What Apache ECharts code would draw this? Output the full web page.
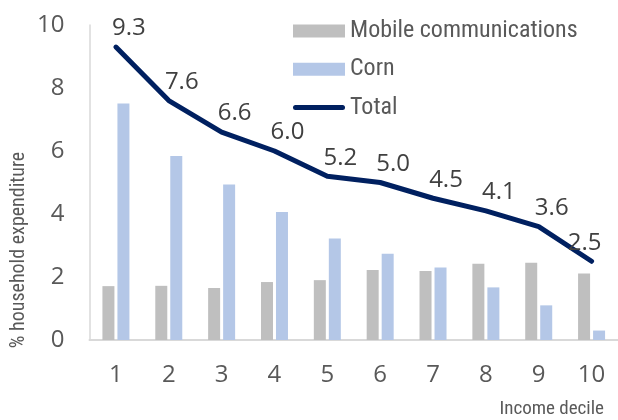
<!DOCTYPE html>
<html>
<head>
<meta charset="utf-8">
<script src="https://cdn.jsdelivr.net/npm/echarts@6/dist/echarts.min.js"></script>
<style>html,body{margin:0;padding:0;background:#fff}#c{width:618px;height:420px}</style>
</head>
<body>
<div id="c"></div>
<script>
var categories = ['1','2','3','4','5','6','7','8','9','10'];
var mobile = [1.71,1.72,1.65,1.84,1.90,2.22,2.19,2.42,2.45,2.11];
var corn = [7.51,5.84,4.94,4.06,3.22,2.74,2.30,1.67,1.10,0.30];
var total = [9.3,7.6,6.6,6.0,5.2,5.0,4.5,4.1,3.6,2.5];
var yTicks = [0,2,4,6,8,10];

var narrow = "'Roboto Condensed','DejaVu Sans Condensed',sans-serif";
var sans = "'Open Sans',sans-serif";

var chart = echarts.init(document.getElementById('c'), null, {renderer:'canvas'});
chart.setOption({
  animation:false,
  grid:{left:89.5, top:25, bottom:80, width:533, containLabel:false},
  legend:{
    orient:'vertical', left:288, top:14,
    itemWidth:52, itemHeight:13, itemGap:14.3,
    textStyle:{fontFamily:narrow, fontSize:24, color:'#595959', lineHeight:24},
    data:[
      {name:'Mobile communications', icon:'rect'},
      {name:'Corn', icon:'rect'},
      {name:'Total', icon:'path://M2.5,0 L49.5,0 A2.5,2.5 0 0 1 49.5,5 L2.5,5 A2.5,2.5 0 0 1 2.5,0 Z'}
    ]
  },
  xAxis:{
    type:'category', data:categories,
    axisLine:{lineStyle:{color:'#d9d9d9', width:2}},
    axisTick:{show:false},
    axisLabel:{fontFamily:sans, fontSize:24, color:'#595959', margin:23}
  },
  yAxis:{
    type:'value', min:yTicks[0], max:yTicks[yTicks.length-1], interval:2,
    splitLine:{show:false},
    axisLine:{show:true, lineStyle:{color:'#d9d9d9', width:1.5}},
    axisTick:{show:false},
    axisLabel:{fontFamily:sans, fontSize:24, color:'#595959', margin:25}
  },
  graphic:[
    {type:'text', x:18.5, y:250, rotation:Math.PI/2,
     style:{text:'% household expenditure', fontFamily:narrow, fontSize:20, fill:'#595959', align:'center', verticalAlign:'middle'}},
    {type:'text', x:604, y:409.5,
     style:{text:'Income decile', fontFamily:narrow, fontSize:19, fill:'#595959', align:'right', verticalAlign:'middle'}}
  ],
  series:[
    {name:'Mobile communications', type:'bar', data:mobile, barWidth:12, barGap:'25%',
     itemStyle:{color:'#bfbfbf'}},
    {name:'Corn', type:'bar', data:corn, barWidth:12,
     itemStyle:{color:'#b4c7e7'}},
    {name:'Total', type:'line', symbol:'circle', symbolSize:1, showSymbol:true, z:5,
     data:total.map(function(v,i){
       return i===total.length-1 ? {value:v, label:{offset:[-7,0]}} : v;
     }),
     lineStyle:{color:'#002060', width:5, cap:'round', join:'round'},
     itemStyle:{color:'#002060'},
     label:{show:true, position:'top', distance:6, offset:[13,0],
       fontFamily:sans, fontSize:24, color:'#404040',
       formatter:function(p){return p.value.toFixed(1);}}
    }
  ]
});
</script>
</body>
</html>
